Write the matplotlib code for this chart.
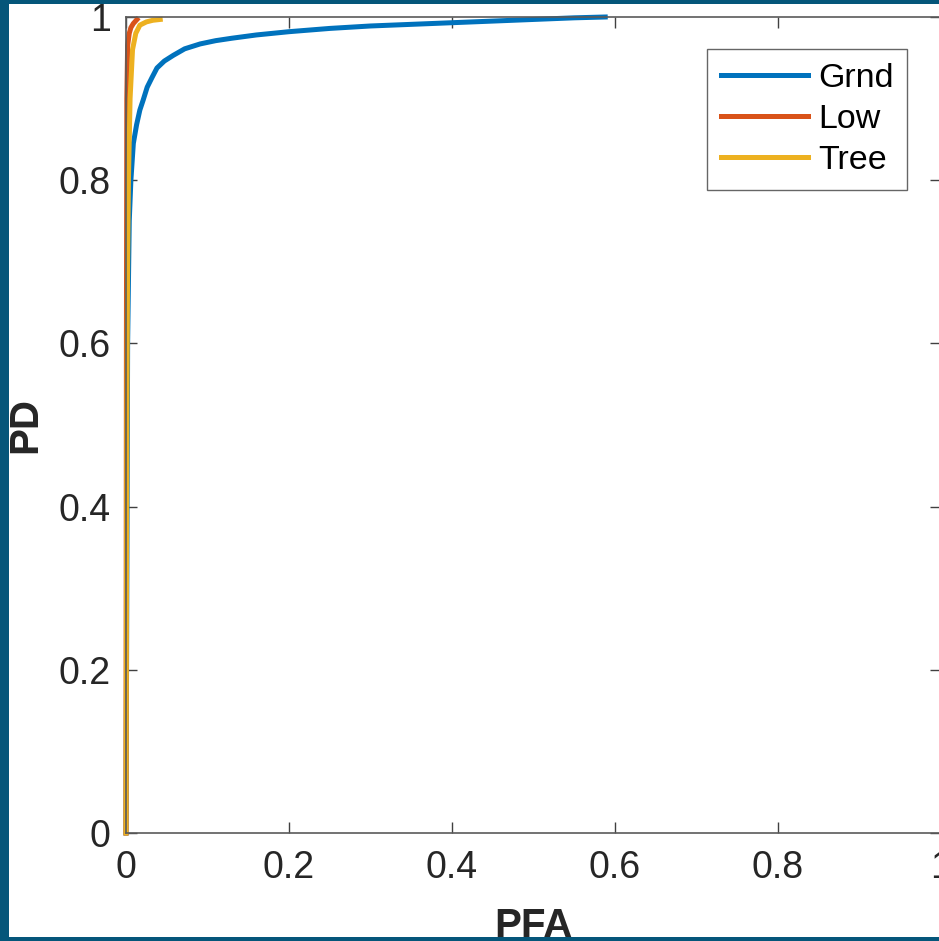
import matplotlib
matplotlib.use('Agg')
import matplotlib.pyplot as plt
from matplotlib.patches import Rectangle

plt.rcParams['font.family'] = ['Liberation Sans', 'DejaVu Sans']

# ROC curves
pfa_grnd = [0, 0.002, 0.004, 0.006, 0.009, 0.013, 0.017, 0.021, 0.026, 0.032,
            0.038, 0.047, 0.058, 0.072, 0.091, 0.110, 0.130, 0.16, 0.20, 0.25,
            0.30, 0.35, 0.40, 0.45, 0.50, 0.55, 0.588]
pd_grnd = [0, 0.60, 0.75, 0.80, 0.845, 0.868, 0.886, 0.898, 0.914, 0.926,
           0.9375, 0.946, 0.953, 0.961, 0.967, 0.971, 0.974, 0.978, 0.982, 0.986,
           0.989, 0.991, 0.993, 0.995, 0.997, 0.999, 1.0]

pfa_low = [0, 0.0005, 0.001, 0.002, 0.004, 0.006, 0.009, 0.0135]
pd_low = [0, 0.60, 0.90, 0.965, 0.980, 0.987, 0.992, 0.997]

pfa_tree = [0, 0.001, 0.002, 0.003, 0.005, 0.008, 0.012, 0.017, 0.025, 0.033, 0.042]
pd_tree = [0, 0.50, 0.70, 0.80, 0.90, 0.96, 0.98, 0.990, 0.994, 0.996, 0.997]

labels = ['Grnd', 'Low', 'Tree']
colors = ['#0072BD', '#D95319', '#EDB120']
ticks = [0, 0.2, 0.4, 0.6, 0.8, 1]
tick_labels = ['0', '0.2', '0.4', '0.6', '0.8', '1']

W, H = 939, 941
fig = plt.figure(figsize=(W / 100, H / 100), dpi=100)
fig.patch.set_facecolor('#05567a')
# white page inside the dark frame, kept behind the axes
fig.patches.append(Rectangle((9 / W, 4 / H), 1 - 9 / W, 1 - 8 / H,
                             transform=fig.transFigure, facecolor='white',
                             edgecolor='none', zorder=-10))

ax = fig.add_axes([126 / W, (H - 833) / H, 815 / W, 816 / H])
ax.plot(pfa_grnd, pd_grnd, color=colors[0], lw=3.6, label=labels[0], clip_on=False)
ax.plot(pfa_low, pd_low, color=colors[1], lw=3.6, label=labels[1], clip_on=False)
ax.plot(pfa_tree, pd_tree, color=colors[2], lw=3.6, label=labels[2], clip_on=False)

ax.set_xlim(0, 1)
ax.set_ylim(0, 1)
ax.set_xticks(ticks)
ax.set_xticklabels(tick_labels)
ax.set_yticks(ticks)
ax.set_yticklabels(tick_labels)
ax.tick_params(direction='in', length=8, width=1, color='#404040',
               labelsize=27, labelcolor='#262626', top=True, right=True)
ax.tick_params(axis='x', pad=12)
ax.tick_params(axis='y', pad=11)
for s in ax.spines.values():
    s.set_color('#5a5a5a')
    s.set_linewidth(1.2)

ax.set_xlabel('PFA', fontsize=29, fontweight='bold', color='#262626')
ax.xaxis.set_label_coords(0.5, -0.091)
ax.set_ylabel('PD', fontsize=29, fontweight='bold', color='#262626')
ax.yaxis.set_label_coords(-0.1, 0.5)

leg = ax.legend(loc='upper right', bbox_to_anchor=(907 / W, 1 - 49 / H),
                bbox_transform=fig.transFigure, borderaxespad=0, fontsize=24.5,
                fancybox=False, handlelength=2.55, handletextpad=0.3,
                labelspacing=0.3, borderpad=0.4)
leg.get_frame().set_edgecolor('#404040')
leg.get_frame().set_linewidth(1)

fig.savefig('out.png', dpi=100, facecolor=fig.get_facecolor())
